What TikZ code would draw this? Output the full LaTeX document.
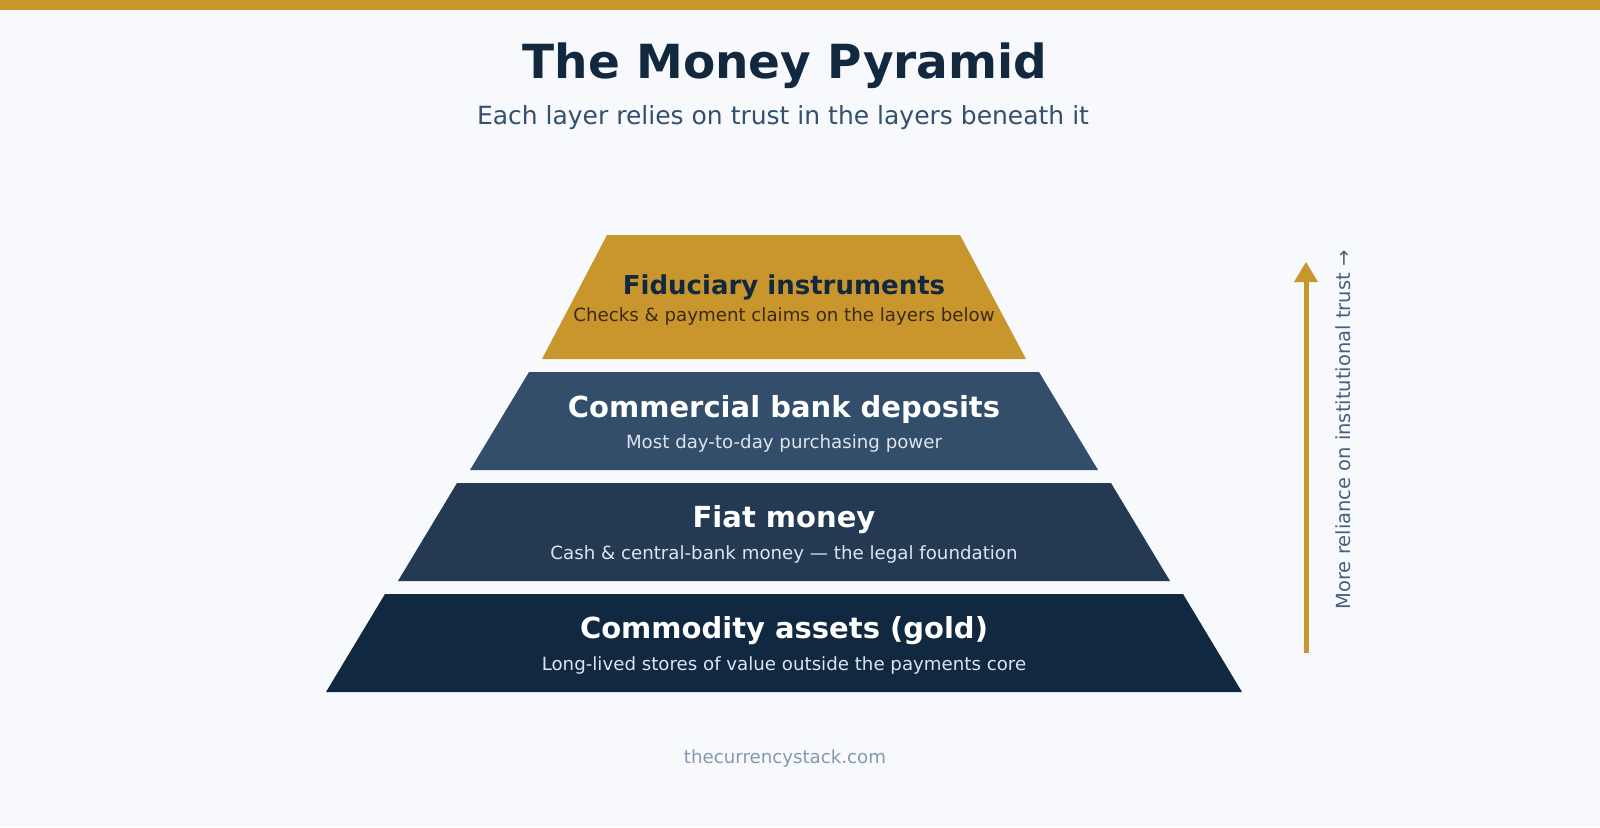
\documentclass[tikz,border=0pt]{standalone}
\usepackage{fontspec}
\setmainfont{DejaVu Sans}
\definecolor{bg}{HTML}{F8F9FC}
\definecolor{gold}{HTML}{C9962E}
\definecolor{navyA}{HTML}{334E6A}
\definecolor{navyB}{HTML}{243A53}
\definecolor{navyC}{HTML}{102840}
\definecolor{titlec}{HTML}{12283F}
\definecolor{subc}{HTML}{33506E}
\definecolor{lightc}{HTML}{DDE4EE}
\definecolor{brownc}{HTML}{3A2A10}
\definecolor{footc}{HTML}{8499AF}
\definecolor{sidec}{HTML}{46617F}
\begin{document}
\begin{tikzpicture}[x=1pt,y=-1pt,
  lt/.style={font=\fontsize{29}{32}\selectfont\bfseries,text=white,inner sep=0},
  ls/.style={font=\fontsize{18.2}{21}\selectfont,text=lightc,inner sep=0}]
\fill[bg] (0,0) rectangle (1600,827);
\useasboundingbox (0,0) rectangle (1600,827);
\fill[gold] (0,0) rectangle (1600,10);
\node[font=\fontsize{47}{50}\selectfont\bfseries,text=titlec] (title) at (785,66) {The Money Pyramid};
\node[font=\fontsize{25}{28}\selectfont,text=subc] (sub) at (783,118) {Each layer relies on trust in the layers beneath it};
\fill[gold] (607,235) -- (960,235) -- (1026,359) -- (542,359) -- cycle;
\fill[navyA] (529,372) -- (1039,372) -- (1098,470) -- (470,470) -- cycle;
\fill[navyB] (457,483) -- (1111,483) -- (1170,581) -- (398,581) -- cycle;
\fill[navyC] (385,594) -- (1183,594) -- (1242,692) -- (326,692) -- cycle;
\node[lt,text=titlec,font=\fontsize{26}{28}\selectfont\bfseries] (t1) at (784,287) {Fiduciary instruments};
\node[ls,text=brownc] (s1) at (784,316) {Checks \& payment claims on the layers below};
\node[lt] (t2) at (784,409) {Commercial bank deposits};
\node[ls] (s2) at (784,443) {Most day-to-day purchasing power};
\node[lt] (t3) at (784,520) {Fiat money};
\node[ls] (s3) at (784,554) {Cash \& central-bank money — the legal foundation};
\node[lt] (t4) at (784,631) {Commodity assets (gold)};
\node[ls] (s4) at (784,665) {Long-lived stores of value outside the payments core};
\coordinate (a0) at (1306,653);
\coordinate (a1) at (1306,262);
\draw[gold,line width=5] (a0) -- (1306,280);
\fill[gold] (a1) -- (1318,282) -- (1294,282) -- cycle;
\node[rotate=90,font=\fontsize{19.5}{22}\selectfont,text=sidec] (side) at (1343,430) {More reliance on institutional trust →};
\node[font=\fontsize{18.2}{21}\selectfont,text=footc] (foot) at (785,758) {thecurrencystack.com};
\end{tikzpicture}
\end{document}
